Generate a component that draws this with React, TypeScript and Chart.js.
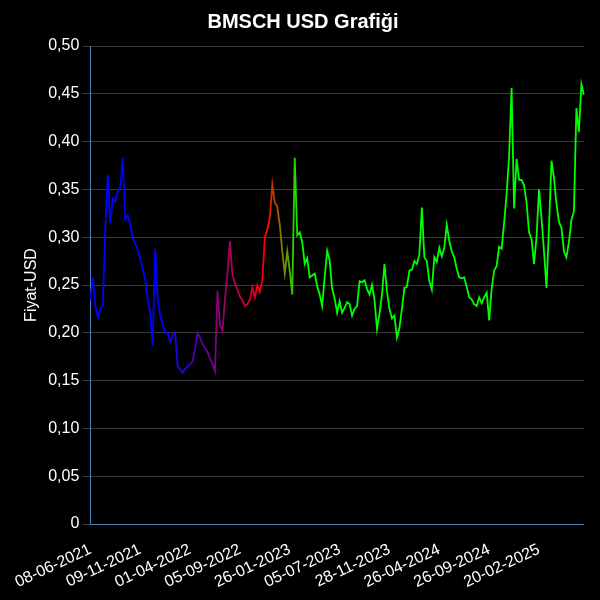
import { useEffect, useRef } from "react";
import { Chart, registerables } from "chart.js";

Chart.register(...registerables);

// dates shown under the x axis, one every 20 points
const tickDates = [
  "08-06-2021",
  "09-11-2021",
  "01-04-2022",
  "05-09-2022",
  "26-01-2023",
  "05-07-2023",
  "28-11-2023",
  "26-04-2024",
  "26-09-2024",
  "20-02-2025",
];
const tickEvery = 20;

// BMSCH price in USD
const prices = [
  0.235, 0.258, 0.228, 0.216, 0.225, 0.228, 0.31, 0.365, 0.315, 0.34,
  0.337, 0.348, 0.352, 0.383, 0.319, 0.323, 0.314, 0.299, 0.293, 0.287,
  0.277, 0.267, 0.255, 0.235, 0.221, 0.186, 0.288, 0.236, 0.218, 0.209,
  0.2, 0.2, 0.19, 0.198, 0.2, 0.165, 0.162, 0.158, 0.162, 0.165,
  0.167, 0.17, 0.183, 0.2, 0.195, 0.188, 0.184, 0.18, 0.173, 0.168,
  0.16, 0.244, 0.209, 0.202, 0.235, 0.262, 0.296, 0.26, 0.252, 0.245,
  0.238, 0.234, 0.228, 0.23, 0.235, 0.248, 0.237, 0.25, 0.243, 0.255,
  0.3, 0.308, 0.32, 0.355, 0.336, 0.332, 0.313, 0.285, 0.262, 0.285,
  0.265, 0.24, 0.383, 0.302, 0.305, 0.295, 0.272, 0.278, 0.258, 0.26,
  0.262, 0.249, 0.24, 0.228, 0.258, 0.286, 0.276, 0.246, 0.236, 0.221,
  0.233, 0.221, 0.226, 0.232, 0.23, 0.218, 0.225, 0.228, 0.254, 0.253,
  0.255, 0.246, 0.24, 0.25, 0.235, 0.204, 0.22, 0.24, 0.272, 0.243,
  0.225, 0.215, 0.218, 0.195, 0.205, 0.225, 0.247, 0.248, 0.265, 0.266,
  0.275, 0.272, 0.282, 0.331, 0.279, 0.275, 0.254, 0.245, 0.279, 0.274,
  0.289, 0.28, 0.289, 0.313, 0.296, 0.285, 0.279, 0.267, 0.258, 0.257,
  0.258, 0.248, 0.237, 0.235, 0.23, 0.228, 0.237, 0.231, 0.237, 0.242,
  0.213, 0.246, 0.265, 0.27, 0.29, 0.288, 0.315, 0.345, 0.385, 0.456,
  0.33, 0.382, 0.36, 0.36, 0.354, 0.336, 0.305, 0.298, 0.272, 0.3,
  0.35, 0.32, 0.285, 0.247, 0.31, 0.38, 0.362, 0.335, 0.316, 0.31,
  0.285, 0.279, 0.295, 0.318, 0.327, 0.435, 0.41, 0.46, 0.449,
];

const labels = prices.map((_, i) =>
  i % tickEvery === 0 && tickDates[i / tickEvery] ? tickDates[i / tickEvery] : ""
);

const FONT = "'Liberation Sans', Arial, sans-serif";

export default function App() {
  const canvasRef = useRef<HTMLCanvasElement>(null);
  const chartRef = useRef<Chart | null>(null);

  useEffect(() => {
    document.body.style.margin = "0";
    if (!canvasRef.current) return;
    if (chartRef.current) chartRef.current.destroy();

    chartRef.current = new Chart(canvasRef.current, {
      type: "line",
      data: {
        labels,
        datasets: [
          {
            label: "BMSCH",
            data: prices,
            borderWidth: 1.8,
            pointRadius: 0,
            tension: 0,
            fill: false,
            borderColor: (ctx: any) => {
              const { chart } = ctx;
              const area = chart.chartArea;
              if (!area) return "#0000ff";
              const g = chart.ctx.createLinearGradient(area.left, 0, area.right, 0);
              g.addColorStop(0, "#0000ff");
              g.addColorStop(0.15, "#0000ff");
              g.addColorStop(0.355, "#ff0000");
              g.addColorStop(0.425, "#00ff00");
              g.addColorStop(1, "#00ff00");
              return g;
            },
          },
        ],
      },
      options: {
        animation: false,
        responsive: true,
        maintainAspectRatio: false,
        layout: { padding: { left: 18, right: 12, top: 2, bottom: 0 } },
        plugins: {
          legend: { display: false },
          tooltip: { enabled: false },
          title: {
            display: true,
            text: "BMSCH USD Grafiği",
            color: "#ffffff",
            font: { family: FONT, size: 20, weight: "bold" },
            padding: { top: 8, bottom: 12 },
          },
        },
        scales: {
          x: {
            grid: { display: false },
            border: { color: "steelblue" },
            ticks: {
              color: "#ffffff",
              autoSkip: false,
              minRotation: 25,
              maxRotation: 25,
              padding: 8,
              font: { family: FONT, size: 16 },
              callback: (_v: any, i: number) => labels[i],
            },
          },
          y: {
            min: 0,
            max: 0.5,
            grid: { color: "#3a3a3a" },
            border: { color: "steelblue" },
            title: {
              display: true,
              text: "Fiyat-USD",
              color: "#ffffff",
              font: { family: FONT, size: 16 },
            },
            ticks: {
              color: "#ffffff",
              stepSize: 0.05,
              font: { family: FONT, size: 16 },
              callback: (v: any) =>
                Number(v) === 0 ? "0" : Number(v).toFixed(2).replace(".", ","),
            },
          },
        },
      },
    });

    return () => {
      if (chartRef.current) {
        chartRef.current.destroy();
        chartRef.current = null;
      }
    };
  }, []);

  return (
    <div style={{ width: 600, height: 600, background: "#000000", position: "relative" }}>
      <canvas ref={canvasRef}></canvas>
    </div>
  );
}
